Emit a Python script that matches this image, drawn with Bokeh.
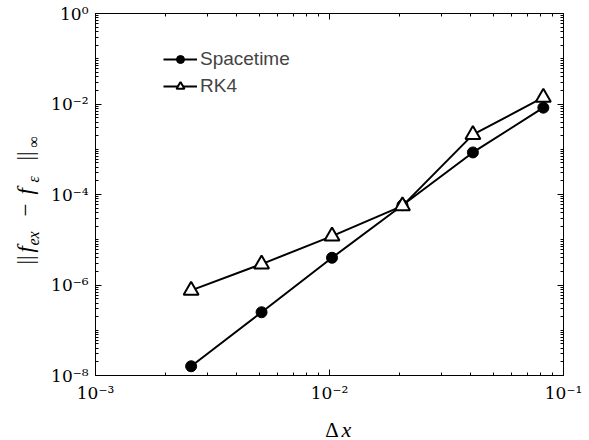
import math
from bokeh.plotting import figure
from bokeh.layouts import row, column
from bokeh.models import (LogAxis, FixedTicker, Legend, LegendItem, Label,
                          CustomJSTickFormatter, Range1d)
from bokeh.embed import file_html
from bokeh.resources import INLINE

# ---- data ----
dx = [0.082, 0.041, 0.0205, 0.01025, 0.005125, 0.0025625]
spacetime = [8.3e-3, 8.5e-4, 5.8e-5, 4.0e-6, 2.5e-7, 1.6e-8]
rk4 = [1.4e-2, 2.1e-3, 5.6e-5, 1.2e-5, 2.9e-6, 7.6e-7]

x_major = [1e-3, 1e-2, 1e-1]
x_labels = ["10⁻³", "10⁻²", "10⁻¹"]
y_major = [1e-8, 1e-6, 1e-4, 1e-2, 1e0]
y_labels = ["10⁻⁸", "10⁻⁶", "10⁻⁴", "10⁻²", "10⁰"]
series_names = ["Spacetime", "RK4"]

x_minor = [k * 10.0 ** e for e in (-3, -2) for k in range(2, 10)]
y_minor = [k * 10.0 ** e for e in range(-8, 0) for k in range(1, 10)
           if not (k == 1 and e % 2 == 0)]

SERIF = "Liberation Serif"
TICKFONT = "DejaVu Serif"

W, H = 589, 440
LEFT_W = 45      # strip holding the rotated y-axis title
BOTTOM_H = 35    # strip holding the x-axis title

p = figure(width=W - LEFT_W, height=H - BOTTOM_H,
           x_axis_type="log", y_axis_type="log",
           x_range=Range1d(1e-3, 1e-1), y_range=Range1d(1e-8, 1e0),
           output_backend="svg", toolbar_location=None,
           min_border_left=95 - LEFT_W, min_border_right=26,
           min_border_top=13, min_border_bottom=30)
p.xgrid.visible = False
p.ygrid.visible = False
p.outline_line_color = "black"
p.outline_line_width = 1
p.background_fill_color = "white"
p.border_fill_color = "white"


def style_axis(ax, major, minor):
    ax.ticker = FixedTicker(ticks=major, minor_ticks=minor)
    ax.major_tick_in = 6
    ax.major_tick_out = 0
    ax.minor_tick_in = 3
    ax.minor_tick_out = 0
    ax.axis_line_color = "black"
    ax.major_tick_line_color = "black"
    ax.minor_tick_line_color = "black"
    ax.major_label_text_font = TICKFONT
    ax.major_label_text_font_size = "17px"
    ax.major_label_text_color = "black"


xa = p.xaxis[0]
style_axis(xa, x_major, x_minor)
xa.major_label_overrides = {v: s for v, s in zip(x_major, x_labels)}
xa.major_label_standoff = 7

ya = p.yaxis[0]
style_axis(ya, y_major, y_minor)
ya.major_label_overrides = {v: s for v, s in zip(y_major, y_labels)}
ya.major_label_standoff = 7

top = LogAxis()
style_axis(top, x_major, x_minor)
top.formatter = CustomJSTickFormatter(code="return ''")
top.major_label_text_font_size = "1px"
top.major_label_standoff = 0
p.add_layout(top, "above")
right = LogAxis()
style_axis(right, y_major, y_minor)
right.formatter = CustomJSTickFormatter(code="return ''")
right.major_label_text_font_size = "1px"
right.major_label_standoff = 0
p.add_layout(right, "right")

l1 = p.line(dx, spacetime, line_color="black", line_width=2)
m1 = p.scatter(dx, spacetime, marker="circle", size=11, fill_color="black",
               line_color="black")
l2 = p.line(dx, rk4, line_color="black", line_width=2)
m2 = p.scatter(dx, rk4, marker="triangle", size=15, fill_color="white",
               line_color="black", line_width=2)

legend = Legend(items=[LegendItem(label=series_names[0], renderers=[l1, m1]),
                       LegendItem(label=series_names[1], renderers=[l2, m2])],
                location=(68, 278), glyph_width=34, glyph_height=20,
                label_height=20, spacing=5, padding=0, margin=0,
                label_standoff=3, border_line_color=None,
                background_fill_alpha=0,
                label_text_font="Liberation Sans",
                label_text_font_size="19px")
p.add_layout(legend)


def text_strip(w, h):
    f = figure(width=w, height=h, x_range=Range1d(0, w), y_range=Range1d(0, h),
               output_backend="svg", toolbar_location=None, title=None,
               min_border=0, x_axis_location=None, y_axis_location=None)
    f.xgrid.visible = False
    f.ygrid.visible = False
    f.outline_line_color = None
    f.background_fill_color = "white"
    f.border_fill_color = "white"
    return f


# ---- y-axis title: ||f_ex - f_eps||_inf, rotated, reading upwards ----
left = text_strip(LEFT_W, H)
pieces = [("||", 264, False, False), ("f", 252, True, False),
          ("ex", 245, True, True), ("−", 216, False, False),
          ("f", 194, True, False), ("ε", 182, True, True),
          ("||", 160, False, False), ("∞", 147, False, True)]
for txt, py, ital, sub in pieces:
    left.add_layout(Label(x=33 if sub else 25, y=H - py,
                          text=txt, angle=math.pi / 2, text_align="left",
                          text_baseline="middle", text_font=SERIF,
                          text_font_style="italic" if ital else "normal",
                          text_font_size="16px" if sub else "23px",
                          text_color="black"))

# ---- x-axis title: Δx (upright Δ, italic x) ----
bottom = text_strip(W - LEFT_W, BOTTOM_H)
bottom.add_layout(Label(x=312 - LEFT_W, y=H - 429, text="Δ",
                        text_align="left", text_baseline="alphabetic",
                        text_font=SERIF, text_font_size="21px",
                        text_color="black"))
bottom.add_layout(Label(x=331 - LEFT_W, y=H - 429, text="x",
                        text_align="left", text_baseline="alphabetic",
                        text_font=SERIF, text_font_style="italic",
                        text_font_size="22px", text_color="black"))

layout = row(left, column(p, bottom, spacing=0), spacing=0)
open("out.html", "w").write(file_html(layout, INLINE))
